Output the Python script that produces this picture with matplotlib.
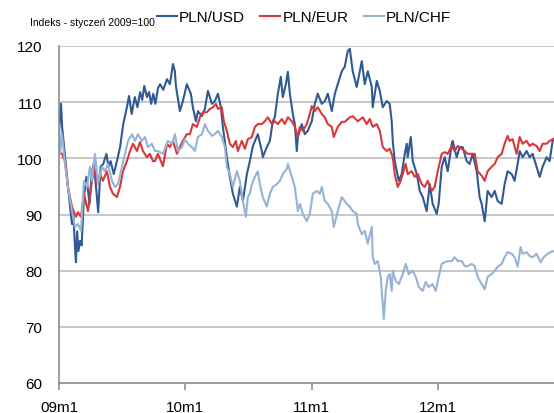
import matplotlib.pyplot as plt

# Miesiace od stycznia 2009 (0 = 09m1) i wartosci indeksu (styczen 2009 = 100)
usd_m = [0.0, 0.1, 0.19, 0.3, 0.57, 0.85, 1.23, 1.35, 1.52, 1.61, 1.72, 1.85, 2.0, 2.15, 2.37, 2.6, 2.9,
         3.1, 3.3, 3.55, 3.72, 3.95, 4.2, 4.5, 4.7, 4.9, 5.2, 5.5, 5.8, 6.1, 6.45, 6.65, 6.9, 7.2, 7.45,
         7.7, 7.9, 8.1, 8.35, 8.55, 8.75, 8.95, 9.15, 9.4, 9.6, 9.9, 10.25, 10.53, 10.82, 11.0, 11.1,
         11.48, 11.76, 12.14, 12.52, 12.71, 13.0, 13.19, 13.57, 13.85, 14.14, 14.52, 14.8, 15.09, 15.37,
         15.56, 15.94, 16.22, 16.51, 16.89, 17.17, 17.46, 17.84, 18.12, 18.41, 18.88, 19.26, 19.35,
         19.73, 20.02, 20.3, 20.49, 20.78, 21.06, 21.25, 21.54, 21.73, 21.92, 22.2, 22.39, 22.58, 22.68,
         23.05, 23.34, 23.62, 24.0, 24.29, 24.57, 24.95, 25.24, 25.52, 25.9, 26.19, 26.47, 26.85, 27.13,
         27.42, 27.61, 27.89, 28.27, 28.75, 29.03, 29.32, 29.7, 29.79, 30.17, 30.46, 30.74, 31.12, 31.4,
         31.59, 31.69, 31.88, 32.07, 32.26, 32.54, 32.83, 33.02, 33.11, 33.4, 33.59, 33.97, 34.25, 34.54,
         34.91, 35.2, 35.48, 35.86, 36.05, 36.34, 36.62, 36.91, 37.29, 37.38, 37.76, 38.05, 38.33, 38.71,
         38.99, 39.28, 39.66, 39.94, 40.13, 40.42, 40.7, 41.08, 41.37, 41.65, 42.03, 42.31, 42.6, 42.98,
         43.26, 43.55, 43.74, 44.02, 44.4, 44.69, 44.97, 45.35, 45.64, 45.92, 46.3, 46.58, 46.87, 47.0]
usd = [104.5, 107.5, 109.7, 105.5, 100.4, 94.9, 88.3, 90.6, 84.0, 81.5, 87.0, 83.5, 85.3, 84.5, 93.1, 96.7,
       91.9, 97.2, 99.0, 94.2, 90.4, 98.5, 99.0, 100.8, 98.5, 99.5, 97.2, 99.5, 102.0, 106.1, 109.1, 111.1,
       107.9, 110.9, 109.1, 111.8, 110.4, 112.9, 110.9, 111.8, 109.7, 111.5, 109.7, 112.5, 113.2, 112.2,
       114.1, 113.2, 116.8, 115.5, 112.9, 108.4, 110.2, 113.2, 111.5, 109.1, 106.6, 108.4, 107.5, 108.8,
       112.0, 109.7, 110.2, 111.5, 109.1, 105.6, 100.2, 96.7, 93.7, 91.4, 94.9, 92.4, 97.2, 99.5, 102.2,
       104.3, 101.3, 100.2, 102.0, 103.1, 106.6, 107.3, 111.5, 114.5, 110.9, 113.2, 115.4, 111.5, 107.9,
       106.1, 101.3, 103.8, 106.1, 104.3, 104.9, 106.6, 109.7, 111.5, 109.7, 110.2, 111.5, 108.4, 111.5,
       113.2, 115.5, 116.3, 119.1, 119.5, 115.5, 112.7, 117.3, 113.2, 115.5, 112.7, 109.1, 113.8, 112.0,
       109.1, 110.2, 109.7, 106.6, 103.1, 99.5, 97.7, 96.0, 97.2, 100.8, 102.6, 100.2, 103.8, 99.5, 97.2,
       94.2, 93.1, 90.6, 95.4, 91.9, 90.1, 91.9, 98.5, 100.2, 97.7, 102.6, 103.1, 100.2, 102.0, 102.0,
       99.5, 99.0, 100.8, 97.7, 93.1, 91.9, 88.8, 94.2, 93.1, 94.2, 92.4, 91.9, 95.4, 97.7, 97.2, 96.0,
       99.0, 101.3, 100.2, 101.3, 100.2, 100.8, 98.5, 96.7, 98.5, 100.2, 99.5, 103.1, 103.4]

eur_m = [0.0, 0.28, 0.57, 0.85, 1.23, 1.61, 1.8, 2.09, 2.37, 2.75, 3.13, 3.32, 3.61, 3.89, 4.17, 4.55, 4.84,
         5.12, 5.5, 5.79, 6.07, 6.45, 6.74, 7.02, 7.4, 7.69, 7.97, 8.35, 8.63, 8.92, 9.11, 9.39, 9.87,
         10.25, 10.53, 10.82, 11.2, 11.48, 11.76, 12.14, 12.43, 12.71, 13.09, 13.38, 13.66, 14.04, 14.33,
         14.61, 14.9, 15.09, 15.46, 15.65, 15.94, 16.22, 16.51, 16.79, 16.98, 17.36, 17.65, 17.93, 18.31,
         18.6, 18.88, 19.26, 19.54, 19.83, 20.21, 20.49, 20.78, 21.16, 21.44, 21.73, 22.11, 22.39, 22.68,
         22.87, 23.15, 23.53, 23.81, 24.0, 24.29, 24.57, 24.95, 25.24, 25.52, 25.9, 26.09, 26.47, 26.85,
         27.13, 27.61, 27.89, 28.37, 28.84, 29.22, 29.51, 29.79, 30.17, 30.46, 30.74, 31.12, 31.4, 31.69,
         31.88, 32.16, 32.45, 32.64, 32.92, 33.11, 33.49, 33.78, 34.06, 34.44, 34.72, 35.01, 35.39, 35.67,
         35.96, 36.34, 36.62, 36.91, 37.29, 37.57, 37.86, 38.24, 38.52, 38.8, 39.18, 39.47, 39.75, 40.13,
         40.42, 40.7, 41.08, 41.37, 41.65, 42.03, 42.31, 42.6, 42.79, 43.07, 43.45, 43.74, 44.02, 44.4,
         44.69, 44.97, 45.35, 45.64, 45.92, 46.3, 46.58, 46.87, 47.0]
eur = [101.0, 100.8, 99.5, 94.9, 91.4, 89.6, 90.4, 89.6, 93.7, 90.6, 96.0, 98.5, 95.4, 97.2, 96.0, 97.7,
       94.9, 93.7, 93.1, 94.9, 97.7, 99.5, 101.3, 102.6, 101.3, 102.9, 101.3, 100.2, 100.8, 99.5, 99.5,
       100.8, 98.6, 102.6, 102.0, 103.1, 100.8, 102.0, 103.1, 104.3, 104.3, 106.1, 105.6, 107.3, 108.2,
       108.2, 108.8, 109.1, 109.7, 108.8, 109.1, 106.6, 104.9, 102.6, 102.0, 103.1, 101.3, 103.1, 101.7,
       103.4, 103.8, 105.6, 106.1, 106.1, 106.6, 107.3, 106.1, 106.6, 106.1, 107.0, 106.1, 107.3, 106.6,
       105.6, 103.8, 105.6, 104.9, 106.1, 107.9, 109.3, 108.4, 109.1, 107.9, 107.3, 106.1, 105.6, 103.8,
       105.6, 106.5, 106.5, 107.3, 107.5, 106.6, 107.3, 106.1, 107.0, 105.6, 106.1, 104.9, 102.0, 101.3,
       101.7, 100.2, 97.2, 94.9, 96.0, 97.2, 99.0, 97.2, 97.7, 96.7, 97.2, 95.4, 94.9, 96.0, 94.2, 94.9,
       97.7, 100.8, 101.1, 100.8, 102.2, 101.3, 102.2, 101.7, 101.3, 100.8, 100.8, 100.8, 97.7, 96.9,
       96.0, 97.7, 98.5, 99.0, 100.2, 100.8, 102.6, 104.0, 103.1, 103.4, 100.8, 103.8, 102.6, 103.1,
       102.2, 102.6, 102.2, 101.3, 102.6, 102.6, 103.1, 103.4, 103.5]

chf_m = [0.0, 0.1, 0.28, 0.57, 0.85, 1.23, 1.52, 1.8, 2.09, 2.37, 2.66, 2.94, 3.13, 3.42, 3.7, 4.08, 4.36,
         4.65, 5.03, 5.31, 5.6, 5.98, 6.26, 6.55, 6.93, 7.21, 7.5, 7.87, 8.16, 8.44, 8.82, 9.11, 9.39,
         9.87, 10.34, 10.72, 11.01, 11.29, 11.67, 11.95, 12.24, 12.62, 12.9, 13.19, 13.57, 13.85, 14.14,
         14.52, 14.8, 15.09, 15.46, 15.75, 15.94, 16.22, 16.51, 16.89, 17.17, 17.46, 17.74, 17.93, 18.12,
         18.31, 18.6, 18.88, 19.07, 19.35, 19.73, 20.02, 20.3, 20.68, 20.97, 21.25, 21.63, 21.73, 22.11,
         22.39, 22.68, 22.87, 23.15, 23.53, 23.81, 24.1, 24.48, 24.76, 24.95, 25.24, 25.52, 25.9, 26.09,
         26.47, 26.85, 27.13, 27.32, 27.61, 27.89, 28.27, 28.37, 28.75, 29.03, 29.32, 29.7, 29.79, 29.98,
         30.27, 30.55, 30.74, 30.84, 31.02, 31.21, 31.4, 31.59, 31.69, 31.97, 32.26, 32.64, 32.92, 33.21,
         33.59, 33.87, 34.16, 34.54, 34.82, 35.1, 35.48, 35.77, 36.05, 36.34, 36.62, 36.91, 37.29, 37.57,
         37.86, 38.24, 38.52, 38.8, 39.18, 39.47, 39.75, 40.13, 40.42, 40.7, 41.08, 41.37, 41.65, 42.03,
         42.31, 42.6, 42.98, 43.26, 43.55, 43.83, 44.02, 44.4, 44.69, 44.97, 45.35, 45.73, 46.02, 46.39,
         46.87, 47.0]
chf = [106.0, 101.0, 104.3, 99.0, 94.9, 90.6, 87.8, 88.3, 87.1, 96.0, 94.9, 98.5, 96.0, 100.8, 95.4, 98.5,
       97.7, 99.0, 96.0, 94.9, 95.4, 98.5, 100.8, 103.1, 104.3, 103.1, 104.3, 103.1, 103.8, 102.0, 102.6,
       101.3, 101.3, 100.8, 103.1, 102.6, 104.3, 101.3, 102.0, 103.4, 102.6, 102.0, 101.3, 103.8, 104.3,
       106.1, 104.9, 104.0, 104.3, 104.9, 103.8, 102.0, 98.5, 97.2, 94.9, 97.7, 96.0, 92.4, 89.6, 93.1,
       93.7, 95.4, 96.7, 97.7, 95.4, 93.1, 91.4, 93.7, 94.9, 95.4, 96.0, 97.2, 98.1, 99.0, 96.7, 94.9,
       90.6, 91.9, 90.1, 88.8, 90.1, 93.7, 94.2, 93.7, 94.9, 92.4, 91.9, 90.6, 87.8, 90.6, 93.1, 92.4,
       91.9, 91.4, 90.6, 90.1, 88.3, 86.5, 87.1, 84.8, 87.8, 82.4, 81.2, 81.7, 78.9, 74.1, 71.4, 76.4,
       78.9, 79.4, 76.4, 80.0, 78.2, 77.6, 79.4, 81.2, 79.4, 80.0, 78.9, 77.1, 76.4, 78.0, 77.1, 77.6,
       76.4, 78.9, 81.2, 81.5, 81.7, 81.7, 82.4, 81.7, 81.7, 80.8, 80.8, 81.2, 80.8, 78.9, 77.6, 76.7,
       78.9, 79.4, 80.0, 80.7, 81.2, 82.4, 83.3, 83.0, 82.4, 80.7, 84.2, 83.0, 83.3, 82.6, 82.4, 83.0,
       81.5, 82.4, 83.0, 83.5, 83.4]

tick_pos = [0, 12, 24, 36]
tick_labels = ['09m1', '10m1', '11m1', '12m1']

plt.rcParams['font.family'] = ['Liberation Sans', 'DejaVu Sans']

fig = plt.figure(figsize=(5.54, 4.14), dpi=100)
ax = fig.add_axes([59 / 554, 30 / 414, 495 / 554, 337 / 414])

ax.plot(usd_m, usd, color='#2F5A93', linewidth=1.5, label='PLN/USD')
ax.plot(eur_m, eur, color='#D8383A', linewidth=1.5, label='PLN/EUR')
ax.plot(chf_m, chf, color='#95B3D7', linewidth=1.5, label='PLN/CHF')

ax.set_xlim(0, 47)
ax.set_ylim(60, 120)
ax.set_yticks(range(60, 121, 10))
ax.set_xticks(tick_pos)
ax.set_xticklabels(tick_labels)

ax.grid(axis='y', color='#BDBDBD', linewidth=1.2)
ax.set_axisbelow(True)
for s in ['top', 'right']:
    ax.spines[s].set_visible(False)
for s in ['left', 'bottom']:
    ax.spines[s].set_color('#8C8C8C')
    ax.spines[s].set_linewidth(1.2)

ax.tick_params(axis='y', length=0, pad=12, labelsize=11)
ax.tick_params(axis='x', length=5, width=1.2, color='#8C8C8C', pad=7, labelsize=11)

fig.text(30 / 554, 1 - 23 / 414, 'Indeks - styczeń 2009=100', fontsize=7.5, va='center', ha='left')
fig.legend(loc='center left', bbox_to_anchor=(157 / 554, 1 - 18 / 414), ncol=3, frameon=False,
           fontsize=11, handlelength=1.3, handletextpad=0.15, columnspacing=1.0,
           borderpad=0, borderaxespad=0)

fig.savefig('out.png', dpi=100)
